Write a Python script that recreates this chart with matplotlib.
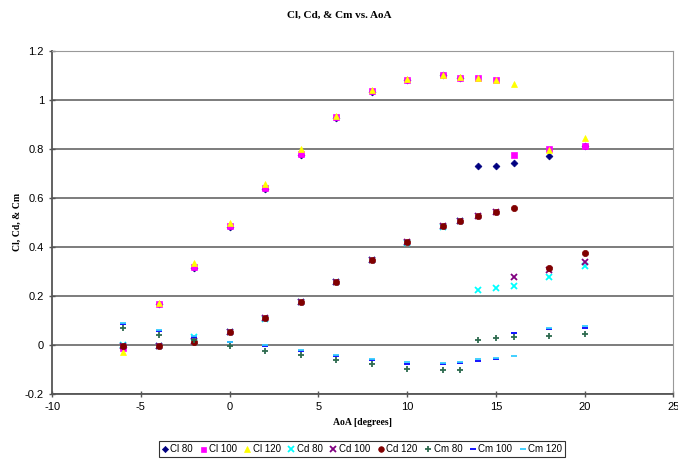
import matplotlib.pyplot as plt

aoa = [-6, -4, -2, 0, 2, 4, 6, 8, 10, 12, 13, 14, 15, 16, 18, 20]

cl_80 = [-0.01, 0.165, 0.315, 0.48, 0.635, 0.775, 0.925, 1.03, 1.08, 1.10, 1.09, 0.73, 0.73, 0.74, 0.77, 0.81]
cl_100 = [-0.015, 0.165, 0.318, 0.485, 0.64, 0.78, 0.928, 1.035, 1.08, 1.10, 1.09, 1.087, 1.08, 0.775, 0.80, 0.811]
cl_120 = [-0.03, 0.17, 0.335, 0.495, 0.655, 0.80, 0.935, 1.04, 1.085, 1.10, 1.095, 1.09, 1.08, 1.065, 0.795, 0.845]

cd_80 = [0.0, -0.005, 0.03, 0.05, 0.105, 0.175, 0.255, 0.345, 0.415, 0.48, 0.505, 0.225, 0.232, 0.24, 0.275, 0.32]
cd_100 = [-0.005, -0.005, 0.015, 0.05, 0.107, 0.176, 0.257, 0.345, 0.418, 0.484, 0.506, 0.525, 0.54, 0.278, 0.305, 0.338]
cd_120 = [-0.005, -0.005, 0.012, 0.05, 0.107, 0.176, 0.257, 0.345, 0.418, 0.484, 0.506, 0.527, 0.54, 0.557, 0.312, 0.373]

cm_80 = [0.07, 0.04, 0.02, -0.004, -0.026, -0.042, -0.062, -0.08, -0.10, -0.103, -0.103, 0.019, 0.029, 0.033, 0.037, 0.044]
cm_100 = [0.085, 0.055, 0.03, 0.01, -0.005, -0.025, -0.045, -0.062, -0.077, -0.08, -0.075, -0.065, -0.058, 0.047, 0.062, 0.068]
cm_120 = [0.088, 0.06, 0.035, 0.012, -0.003, -0.022, -0.042, -0.058, -0.072, -0.074, -0.07, -0.06, -0.054, -0.045, 0.068, 0.075]

series = [
    ("Cl 80", cl_80, "D", "#000080", 3.5),
    ("Cl 100", cl_100, "s", "#FF00FF", 4),
    ("Cl 120", cl_120, "^", "#FFFF00", 4.5),
    ("Cd 80", cd_80, "x", "#00FFFF", 4.5),
    ("Cd 100", cd_100, "x", "#800080", 4.5),
    ("Cd 120", cd_120, "o", "#800000", 4.5),
    ("Cm 80", cm_80, "+", "#2E6B4F", 5),
    ("Cm 100", cm_100, "_", "#0000FF", 5),
    ("Cm 120", cm_120, "_", "#33CCFF", 5),
]

plt.rcParams['font.family'] = ['Liberation Sans', 'DejaVu Sans']
plt.rcParams['axes.unicode_minus'] = False
serif = 'Liberation Serif'

fig = plt.figure(figsize=(6.78, 4.62), dpi=100)
ax = fig.add_axes([0.077, 0.148, 0.916, 0.742])

for name, vals, mk, col, ms in series:
    ax.plot(aoa, vals, linestyle='none', marker=mk, color=col, markersize=ms,
            markeredgewidth=1.3 if mk in 'x+_' else 0.5, label=name, zorder=3)

ax.set_xlim(-10, 25)
ax.set_ylim(-0.2, 1.2)
ax.set_xticks(range(-10, 26, 5))
ax.set_yticks([-0.2, 0, 0.2, 0.4, 0.6, 0.8, 1, 1.2])
ax.set_yticklabels(['-0.2', '0', '0.2', '0.4', '0.6', '0.8', '1', '1.2'])
ax.tick_params(direction='inout', length=5, width=1, labelsize=8, color='#555555')
ax.yaxis.grid(True, color='#666666', linewidth=1.2)
ax.set_axisbelow(True)
for side in ['top', 'right']:
    ax.spines[side].set_color('#999999')
for side in ['left', 'bottom']:
    ax.spines[side].set_color('#555555')
    ax.spines[side].set_linewidth(1.3)

fig.text(0.5, 0.966, "Cl, Cd, & Cm vs. AoA", ha='center', va='center',
         fontsize=8, fontweight='bold', family=serif)
ax.set_xlabel("AoA [degrees]", fontsize=7, fontweight='bold', family=serif, labelpad=4)
ax.set_ylabel("Cl, Cd, & Cm", fontsize=7, fontweight='bold', family=serif, labelpad=2)

leg = fig.legend(loc='lower center', bbox_to_anchor=(0.534, 0.0), ncol=9, fontsize=7,
                 frameon=True, fancybox=False, edgecolor='black', handlelength=0.6,
                 handletextpad=0.3, columnspacing=0.75, borderpad=0.3, markerscale=0.9)
leg.get_frame().set_linewidth(0.8)

fig.savefig("out.png", dpi=100)
